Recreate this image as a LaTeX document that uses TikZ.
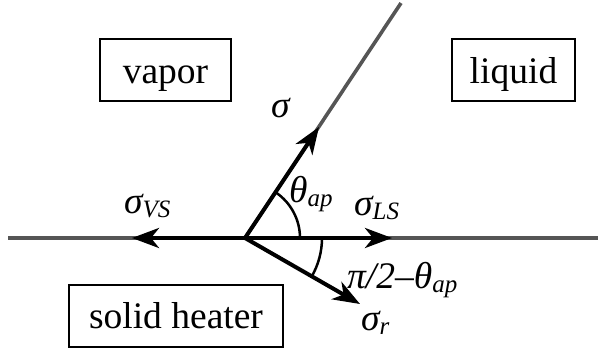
\documentclass[tikz,border=0pt]{standalone}
\usepackage{fontspec}
\setmainfont{Liberation Serif}
\newfontfamily\timesf{Liberation Serif}
\usetikzlibrary{arrows.meta}
\definecolor{linegray}{RGB}{85,85,85}
\newcommand{\lsub}[1]{\raisebox{-4pt}{\fontsize{25}{25}\selectfont\timesf\itshape #1}}
\begin{document}
\begin{tikzpicture}[x=1pt,y=-1pt]
\tikzset{
  region/.style={draw, line width=2pt, inner sep=0pt, text height=34pt, text depth=8pt, minimum height=62pt, font=\fontsize{37.5}{40}\selectfont\timesf},
  lbl/.style={anchor=base west, inner sep=0pt, font=\fontsize{37.5}{40}\selectfont\timesf\itshape},
  grayline/.style={draw=linegray, line width=3.6pt},
  vec/.style={draw=black, line width=4pt, -{Stealth[length=27pt,width=20pt,inset=8pt]}},
  anglearc/.style={draw=black, line width=2.5pt}}
\useasboundingbox (0,0) rectangle (598,349);
% regions
\node[region, minimum width=131pt] (vapor) at (165.5,70) {vapor\hspace{10pt}};
\node[region, minimum width=123pt] (liquid) at (513.5,70) {liquid};
\node[region, minimum width=214pt] (heater) at (176,315.5) {solid heater\hspace{3pt}};
% points
\coordinate (O) at (245,238);
\coordinate (Lend) at (8,238);
\coordinate (Rend) at (598,238);
\coordinate (Top) at (401,3);
\coordinate (Ltip) at (132,238);
\coordinate (Rtip) at (392,238);
\coordinate (Stip) at (319,127);
\coordinate (Rdtip) at (360,304);
% interfaces
\draw[grayline] (Lend) -- (Rend);
\draw[grayline] (O) -- (Top);
% force vectors
\draw[vec] (O) -- (Ltip);
\draw[vec] (O) -- (Rtip);
\draw[vec] (O) -- (Stip);
\draw[vec] (O) -- (Rdtip);
% angle arcs
\draw[anglearc] (O) ++(55,0) arc[start angle=0, end angle=-56, radius=55];
\draw[anglearc] (O) ++(77,0) arc[start angle=0, end angle=30, radius=77];
% labels
\node[lbl] (sig) at (271,117) {σ};
\node[lbl] (theta) at (289,202) {θ\lsub{ap}};
\node[lbl] (sigLS) at (354,215) {σ\lsub{LS}};
\node[lbl] (sigVS) at (124,213) {σ\lsub{VS}};
\node[lbl] (comp) at (347,288) {π/2–θ\lsub{ap}};
\node[lbl] (sigr) at (361,330) {σ\lsub{r}};
\end{tikzpicture}
\end{document}
